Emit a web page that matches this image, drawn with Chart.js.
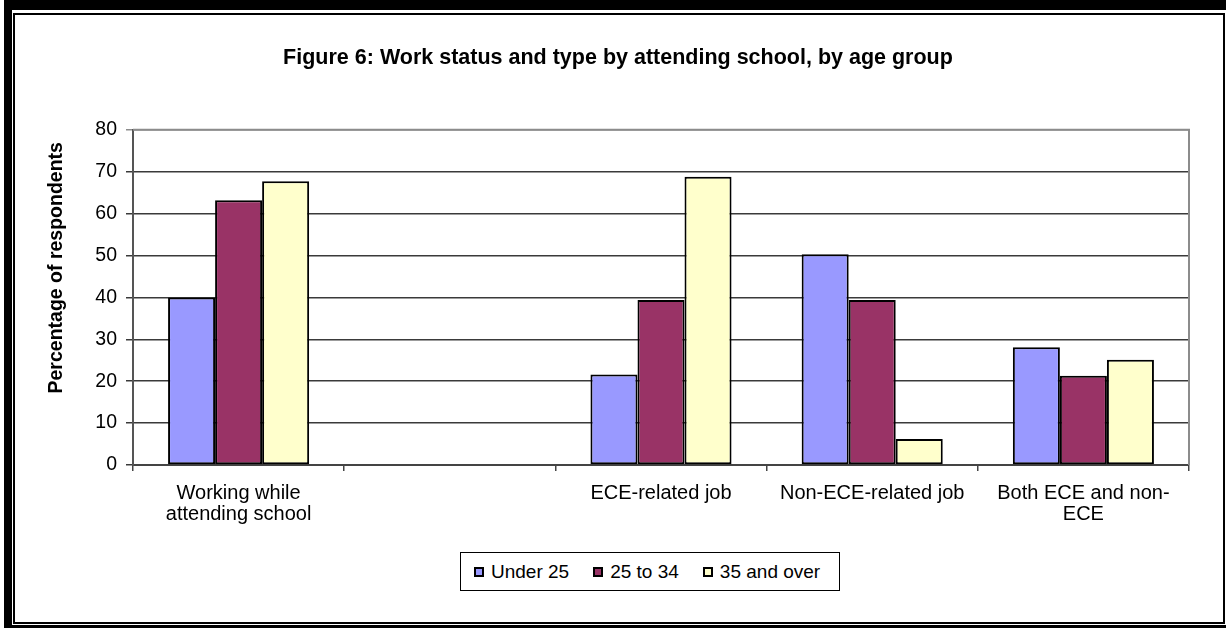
<!DOCTYPE html>
<html>
<head>
<meta charset="utf-8">
<title>Work status and type by attending school</title>
<script src="https://cdn.jsdelivr.net/npm/chart.js@4.4.1/dist/chart.umd.min.js"></script>
<style>
  html, body { margin: 0; padding: 0; background: #fff; }
  #wrap { position: relative; width: 1226px; height: 628px; overflow: hidden; }
  #chart { position: absolute; left: 0; top: 0; }
  .frame-outer {
    position: absolute; left: 4px; top: 0; right: 0; bottom: 0;
    border-top: 10px solid #000; border-left: 8px solid #000; border-bottom: 3px solid #000;
    pointer-events: none;
  }
  .frame-inner {
    position: absolute; left: 13px; top: 13px; width: 1208px; height: 607px;
    border: 2px solid #000; pointer-events: none;
  }
  #legend {
    position: absolute; left: 460px; top: 552px; height: 37px; width: 365px;
    border: 1px solid #000; background: #fff;
    display: flex; align-items: center; padding-left: 13px; box-sizing: content-box;
    font-family: Arial, "Liberation Sans", sans-serif; font-size: 19px; color: #000;
    white-space: nowrap;
  }
  #legend .item { display: flex; align-items: center; flex: 0 0 auto; margin-right: 24px; }
  #legend .swatch { flex: 0 0 auto; width: 10px; height: 10px; border: 2px solid #000; box-sizing: border-box; margin-right: 7px; }
</style>
</head>
<body>
<div id="wrap">
  <canvas id="chart" width="1226" height="628"></canvas>
  <div id="legend"></div>
  <div class="frame-outer"></div>
  <div class="frame-inner"></div>
</div>
<script>
const categories = [
  ['Working while', 'attending school'],
  '',
  'ECE-related job',
  'Non-ECE-related job',
  ['Both ECE and non-', 'ECE']
];
const seriesNames = ['Under 25', '25 to 34', '35 and over'];
const under25 = [40.0, null, 21.6, 50.3, 28.1];
const age25to34 = [63.2, null, 39.4, 39.4, 21.3];
const age35plus = [67.7, null, 68.8, 6.2, 25.1];
const seriesColors = ['#9999FF', '#993366', '#FFFFCC'];
const yTicks = [0, 10, 20, 30, 40, 50, 60, 70, 80];

const FONT = 'Arial, "Liberation Sans", sans-serif';

// top and right edges of the plot area, plus the rotated y title
const plotFrame = {
  id: 'plotFrame',
  afterDraw(chart) {
    const a = chart.chartArea;
    const ctx = chart.ctx;
    ctx.save();
    ctx.strokeStyle = '#8c8c8c';
    ctx.lineWidth = 2;
    ctx.beginPath();
    ctx.moveTo(a.left, a.top);
    ctx.lineTo(a.right, a.top);
    ctx.lineTo(a.right, a.bottom);
    ctx.stroke();

    ctx.fillStyle = '#000';
    ctx.font = 'bold 19.5px ' + FONT;
    ctx.textAlign = 'center';
    ctx.textBaseline = 'middle';
    ctx.translate(57, a.top + 138);
    ctx.rotate(-Math.PI / 2);
    ctx.fillText('Percentage of respondents', 0, 0);
    ctx.restore();
  }
};

const datasets = [under25, age25to34, age35plus].map((vals, i) => ({
  label: seriesNames[i],
  data: vals,
  backgroundColor: seriesColors[i],
  borderColor: '#000',
  borderWidth: 2,
  borderSkipped: false,
  categoryPercentage: 0.668,
  barPercentage: 1.0
}));

new Chart(document.getElementById('chart'), {
  type: 'bar',
  data: { labels: categories, datasets: datasets },
  options: {
    responsive: false,
    animation: false,
    devicePixelRatio: 1,
    layout: { padding: { left: 47, right: 37, top: 0, bottom: 0 } },
    plugins: {
      legend: { display: false },
      tooltip: { enabled: false },
      title: {
        display: true,
        text: 'Figure 6: Work status and type by attending school, by age group',
        color: '#000',
        font: { family: FONT, size: 21.5, weight: 'bold', lineHeight: 1.2 },
        padding: { top: 45, bottom: 59 }
      }
    },
    scales: {
      x: {
        offset: true,
        grid: {
          offset: true,
          drawOnChartArea: false,
          drawTicks: true,
          tickLength: 6,
          color: '#444',
          lineWidth: 1.5
        },
        border: { display: true, color: '#444', width: 2 },
        ticks: {
          color: '#000',
          autoSkip: false,
          maxRotation: 0,
          minRotation: 0,
          padding: 12,
          font: { family: FONT, size: 20, lineHeight: 1.05 }
        },
        afterFit(scale) { scale.height = 163; }
      },
      y: {
        min: 0,
        max: 80,
        afterBuildTicks(scale) { scale.ticks = yTicks.map(v => ({ value: v })); },
        grid: {
          color: ctx => (ctx.tick && ctx.tick.value === 80 ? '#8c8c8c' : '#3a3a3a'),
          lineWidth: 1.5,
          tickLength: 7
        },
        border: { display: true, color: '#555', width: 2 },
        ticks: {
          color: '#000',
          padding: 9,
          font: { family: FONT, size: 19.5 }
        },
        afterFit(scale) { scale.width = 86; }
      }
    }
  },
  plugins: [plotFrame]
});

// legend box under the axis
const legendEl = document.getElementById('legend');
seriesNames.forEach((name, i) => {
  const item = document.createElement('div');
  item.className = 'item';
  const sw = document.createElement('span');
  sw.className = 'swatch';
  sw.style.background = seriesColors[i];
  const txt = document.createElement('span');
  txt.textContent = name;
  item.appendChild(sw);
  item.appendChild(txt);
  legendEl.appendChild(item);
});
</script>
</body>
</html>
